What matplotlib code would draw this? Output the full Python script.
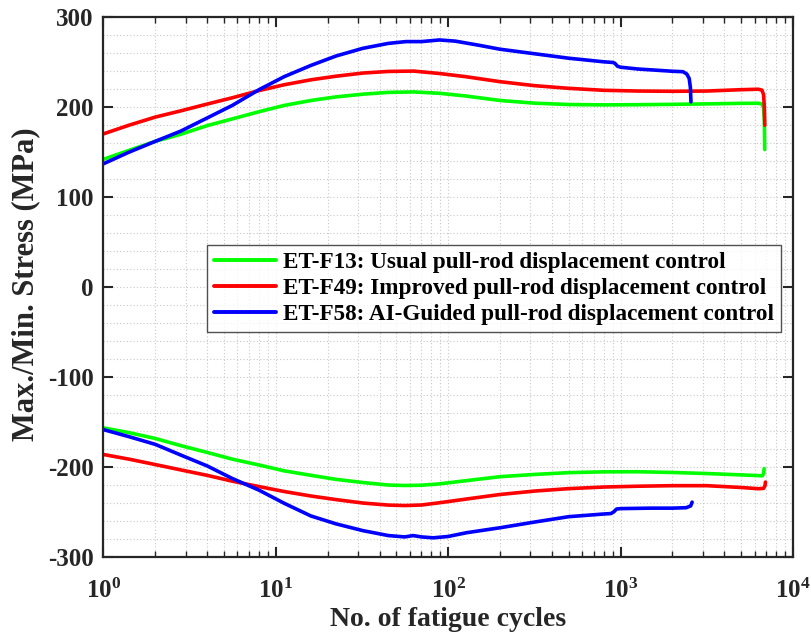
import numpy as np
import matplotlib
matplotlib.use("Agg")
import matplotlib.pyplot as plt
from matplotlib.ticker import MultipleLocator, LogLocator, NullFormatter

plt.rcParams["font.family"] = ["Liberation Serif", "DejaVu Serif"]
plt.rcParams["font.weight"] = "bold"
plt.rcParams["axes.labelweight"] = "bold"
plt.rcParams["axes.unicode_minus"] = False

# ---- ET-F13: usual pull-rod displacement control ----
f13_max_n = [1, 1.41, 2.0, 2.82, 4.0, 5.6, 8, 11.2, 16, 22.4, 32, 45, 63, 89,
             126, 200, 316, 500, 800, 1260, 2000, 3160, 5000, 6300, 6600, 6750,
             6820, 6850]
f13_max_s = [142, 152, 162, 170, 179.5, 187, 195, 202, 207.5, 211.5, 214.5,
             216.5, 217, 215.5, 212.5, 207.5, 204.5, 203, 202.6, 202.8, 203.2,
             203.7, 204.3, 204.4, 203.5, 200, 185, 153]
f13_min_n = [1, 1.41, 2.0, 2.82, 4.0, 5.6, 8, 11.2, 16, 22.4, 32, 45, 56, 70,
             89, 126, 200, 316, 500, 800, 1260, 2000, 3160, 5000, 6300, 6650,
             6760, 6800]
f13_min_s = [-156.7, -162, -168.5, -176.5, -184, -191.5, -198, -204.5, -209.5,
             -214, -217.5, -220.3, -220.8, -220.5, -219, -215.5, -211, -208.5,
             -206.5, -205.6, -205.5, -206.3, -207.5, -209, -209.8, -210, -207,
             -202]

# ---- ET-F49: improved pull-rod displacement control ----
f49_max_n = [1, 1.41, 2.0, 2.82, 4.0, 5.6, 8, 11.2, 16, 22.4, 32, 45, 63, 89,
             126, 200, 316, 500, 800, 1260, 2000, 3160, 5000, 6300, 6600, 6750,
             6820, 6860]
f49_max_s = [170.3, 180, 189, 196, 203.5, 210.5, 218.5, 225, 230.5, 234.5, 238,
             239.8, 240.2, 237.5, 234, 228.4, 224, 221, 218.8, 218, 217.7, 218,
             219.5, 220, 219, 214, 200, 180]
f49_min_n = [1, 1.41, 2.0, 2.82, 4.0, 5.6, 8, 11.2, 16, 22.4, 32, 45, 56, 70,
             89, 126, 200, 316, 500, 800, 1260, 2000, 3160, 5000, 6300, 6750,
             6880, 6920]
f49_min_s = [-186.3, -191.5, -197.5, -203.5, -209.5, -216, -222, -227.5, -232.5,
             -236.5, -240.3, -242.6, -243.1, -242.5, -240, -236, -230.8, -227,
             -224.3, -222.5, -221.6, -221, -221, -223, -224.4, -224, -221, -217]

# ---- ET-F58: AI-guided pull-rod displacement control ----
f58_max_n = [1, 1.41, 2.0, 2.82, 4.0, 5.6, 8, 11.2, 16, 22.4, 32, 45, 57, 70,
             89, 110, 150, 200, 316, 500, 800, 900, 925, 960, 1000, 1260, 2000,
             2300, 2420, 2500, 2540, 2560]
f58_max_s = [137, 150, 162, 173.5, 188, 202, 219.5, 234, 246.5, 257, 265.5, 271,
             273, 273, 274.8, 273.5, 269, 264.5, 259.5, 254.5, 250.5, 249.8, 249,
             245.6, 244.5, 242.5, 240, 239.5, 237, 232, 222, 206]
f58_min_n = [1, 1.41, 2.0, 2.82, 4.0, 5.6, 8, 11.2, 16, 22.4, 32, 45, 56, 62.7,
             70, 82, 100, 128, 200, 316, 500, 800, 880, 915, 947, 1000, 1500,
             2000, 2400, 2550, 2600]
f58_min_s = [-158.6, -166.5, -175, -187, -199, -213, -226, -240.6, -254.7,
             -263.5, -271, -276.5, -278, -276.5, -278, -279, -277.5, -273.3,
             -267.8, -261.5, -255.5, -252.5, -252, -250, -247, -246.5, -246,
             -246, -245.5, -243.5, -239.3]

series = [
    ("ET-F13: Usual pull-rod displacement control", "#00ff00",
     f13_max_n, f13_max_s, f13_min_n, f13_min_s),
    ("ET-F49: Improved pull-rod displacement control", "#ff0000",
     f49_max_n, f49_max_s, f49_min_n, f49_min_s),
    ("ET-F58: AI-Guided pull-rod displacement control", "#0000ff",
     f58_max_n, f58_max_s, f58_min_n, f58_min_s),
]

fig = plt.figure(figsize=(8.12, 6.39), dpi=100)
ax = fig.add_axes([0.1272, 0.1288, 0.8494, 0.8441])

for label, color, nmax, smax, nmin, smin in series:
    ax.plot(nmax, smax, color=color, lw=2.6, label=label,
            solid_capstyle="round", solid_joinstyle="round")
    ax.plot(nmin, smin, color=color, lw=2.6,
            solid_capstyle="round", solid_joinstyle="round")

ax.set_xscale("log")
ax.set_xlim(1, 1e4)
ax.set_ylim(-300, 300)
ax.yaxis.set_major_locator(MultipleLocator(100))
ax.yaxis.set_minor_locator(MultipleLocator(20))
ax.xaxis.set_major_locator(LogLocator(base=10, numticks=10))
ax.xaxis.set_minor_locator(LogLocator(base=10, subs=np.arange(2, 10), numticks=10))
ax.xaxis.set_minor_formatter(NullFormatter())

ax.grid(True, which="both", color="#c8c8c8", linestyle=(0, (1, 2)), linewidth=0.8)
ax.set_axisbelow(True)

ax.tick_params(which="both", direction="in", top=True, right=True,
               labelsize=18, color="#262626")
ax.tick_params(which="major", length=7, width=1.5)
ax.tick_params(axis="x", which="minor", length=4, width=1.0)
ax.tick_params(axis="y", which="minor", length=0)
ax.tick_params(axis="x", which="major", pad=16)
ax.tick_params(axis="y", which="major", pad=7)
for sp in ax.spines.values():
    sp.set_linewidth(1.6)
    sp.set_color("#262626")
for t in ax.get_xticklabels() + ax.get_yticklabels():
    t.set_fontweight("bold")
    t.set_color("#262626")

ax.set_xlabel("No. of fatigue cycles", fontsize=20, fontweight="bold",
              color="#262626", labelpad=3)
ax.set_ylabel("Max./Min. Stress (MPa)", fontsize=22, fontweight="bold",
              color="#262626")
ax.yaxis.set_label_coords(-0.091, 0.505)

leg = ax.legend(loc="upper left", bbox_to_anchor=(0.150, 0.578),
                prop={"family": "Liberation Serif", "weight": "bold", "size": 16.7},
                frameon=True, fancybox=False, edgecolor="#262626",
                handlelength=2.7, handletextpad=0.3, borderpad=0.3,
                labelspacing=0.2, borderaxespad=0)
leg.get_frame().set_linewidth(1.0)
for line in leg.get_lines():
    line.set_linewidth(2.8)

fig.savefig("out.png", dpi=100, facecolor="white")
